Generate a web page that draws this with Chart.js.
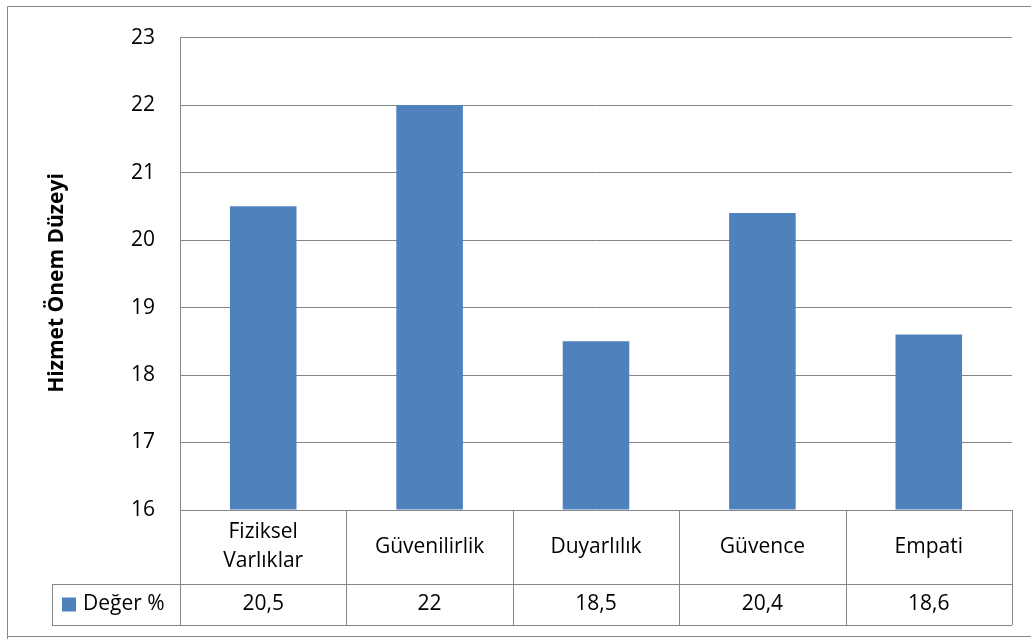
<!DOCTYPE html>
<html>
<head>
<meta charset="utf-8">
<script src="https://cdn.jsdelivr.net/npm/chart.js@4.4.0/dist/chart.umd.min.js"></script>
<style>
  html, body { margin: 0; padding: 0; background: #fff; }
  #wrap { width: 1031px; height: 639px; position: relative; }
</style>
</head>
<body>
<div id="wrap"><canvas id="chart"></canvas></div>
<script>
// Data
const categories = [['Fiziksel', 'Varlıklar'], 'Güvenilirlik', 'Duyarlılık', 'Güvence', 'Empati'];
const values = [20.5, 22, 18.5, 20.4, 18.6];
const valueLabels = ['20,5', '22', '18,5', '20,4', '18,6'];
const seriesName = 'Değer %';
const yTitle = 'Hizmet Önem Düzeyi';

const FONT = '"Open Sans", "Noto Sans", sans-serif';
const GRID = '#868686';
const BLUE = '#4F81BD';

// Draws the outer frame, the axis title and the data table under the plot
const tablePlugin = {
  id: 'dataTable',
  afterDraw(chart) {
    const ctx = chart.ctx;
    const area = chart.chartArea;
    const x = chart.scales.x;
    const top = area.bottom;
    const mid = top + 74;
    const bottom = top + 115;
    const legendLeft = 52;

    ctx.save();
    ctx.strokeStyle = GRID;
    ctx.lineWidth = 1;

    // outer frame
    ctx.beginPath();
    ctx.moveTo(7.5, 639);
    ctx.lineTo(7.5, 6.5);
    ctx.lineTo(1031, 6.5);
    ctx.moveTo(7.5, 636.5);
    ctx.lineTo(1031, 636.5);
    ctx.stroke();

    // table lines
    ctx.beginPath();
    ctx.moveTo(legendLeft, mid + 0.5);
    ctx.lineTo(area.right, mid + 0.5);
    ctx.moveTo(legendLeft, bottom + 0.5);
    ctx.lineTo(area.right, bottom + 0.5);
    ctx.moveTo(legendLeft + 0.5, mid);
    ctx.lineTo(legendLeft + 0.5, bottom);
    ctx.moveTo(area.left + 0.5, top);
    ctx.lineTo(area.left + 0.5, bottom);
    categories.forEach((c, i) => {
      const edge = Math.round(x.getPixelForValue(i) + (x.getPixelForValue(1) - x.getPixelForValue(0)) / 2) + 0.5;
      ctx.moveTo(edge, top);
      ctx.lineTo(edge, bottom);
    });
    ctx.stroke();

    // category and value text
    ctx.fillStyle = '#000';
    ctx.font = '21px ' + FONT;
    ctx.textAlign = 'center';
    ctx.textBaseline = 'middle';
    categories.forEach((c, i) => {
      const cx = x.getPixelForValue(i);
      const lines = Array.isArray(c) ? c : [c];
      const lh = 29;
      const y0 = (top + mid) / 2 - (lines.length - 1) * lh / 2;
      lines.forEach((l, j) => ctx.fillText(l, cx, y0 + j * lh));
      ctx.fillText(valueLabels[i], cx, (mid + bottom) / 2);
    });

    // legend key
    ctx.fillStyle = BLUE;
    ctx.fillRect(62, (mid + bottom) / 2 - 7, 14, 14);
    ctx.fillStyle = '#000';
    ctx.textAlign = 'left';
    ctx.fillText(seriesName, 83, (mid + bottom) / 2);

    // axis title
    ctx.font = 'bold 21px ' + FONT;
    ctx.translate(57, 283);
    ctx.rotate(-Math.PI / 2);
    ctx.textAlign = 'center';
    ctx.fillText(yTitle, 0, 0);
    ctx.restore();
  }
};

new Chart(document.getElementById('chart'), {
  type: 'bar',
  data: {
    labels: categories,
    datasets: [{
      label: seriesName,
      data: values,
      base: 16,
      backgroundColor: BLUE,
      borderWidth: 0,
      categoryPercentage: 1,
      barPercentage: 0.4,
    }],
  },
  options: {
    responsive: true,
    maintainAspectRatio: false,
    animation: false,
    layout: {
      padding: { left: 0, top: 37, right: 19, bottom: 129 },
    },
    plugins: {
      legend: { display: false },
      tooltip: { enabled: false },
    },
    scales: {
      x: {
        display: false,
      },
      y: {
        min: 16,
        max: 23,
        afterFit: (scale) => { scale.width = 180; },
        ticks: {
          stepSize: 1,
          padding: 25,
          color: '#000',
          font: { family: FONT, size: 21 },
        },
        grid: {
          color: GRID,
          drawTicks: false,
        },
        border: {
          color: GRID,
        },
      },
    },
  },
  plugins: [tablePlugin],
});
</script>
</body>
</html>
